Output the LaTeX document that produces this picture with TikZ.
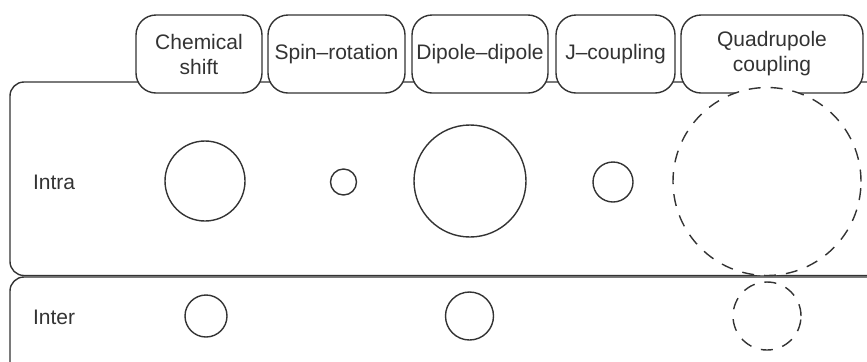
\documentclass[tikz,border=0pt]{standalone}
\usepackage{fontspec}
\setmainfont{Liberation Sans}
\begin{document}
\begin{tikzpicture}[x=0.5pt, y=-0.5pt,
    every node/.style = {font=\fontsize{10.5}{12.5}\selectfont, text=black!80},
    band/.style = {draw=black!80, line width=0.7pt, rounded corners=7pt, inner sep=0pt, outer sep=0pt},
    head/.style = {draw=black!80, fill=white, line width=0.7pt, rounded corners=10pt, align=center, inner sep=0pt, minimum height=39pt},
    dot/.style = {draw=black!80, fill=white, line width=0.7pt, circle, inner sep=0pt, outer sep=0pt},
    ddot/.style = {dot, dash pattern=on 6pt off 5pt}]
    \clip (0,0) rectangle (867,361);

    \node[band, minimum width=495pt, minimum height=96.75pt] (intra) at (505, 178.75) {};
    \node[band, minimum width=495pt, minimum height=91.5pt] (inter) at (505, 368.5) {};
    \node[anchor=west] (intralbl) at (26, 182) {Intra};
    \node[anchor=west] (interlbl) at (26, 317) {Inter};

    \node[head, minimum width=63pt] (cs) at (199, 54) {Chemical\\shift};
    \node[head, minimum width=68.5pt] (sr) at (336.5, 54) {Spin--rotation};
    \node[head, minimum width=68pt] (dd) at (480, 54) {Dipole--dipole};
    \node[head, minimum width=59.5pt] (jc) at (615.5, 54) {J--coupling};
    \node[head, minimum width=91pt] (qc) at (772, 54) {Quadrupole\\coupling};

    \node[dot, minimum size=40pt] (cs1) at (205, 181) {};
    \node[dot, minimum size=13pt] (sr1) at (343.5, 182) {};
    \node[dot, minimum size=56pt] (dd1) at (470, 181) {};
    \node[dot, minimum size=20pt] (jc1) at (613, 182) {};
    \node[ddot, minimum size=94pt] (qc1) at (767, 181.5) {};

    \node[dot, minimum size=21pt] (cs2) at (206, 316) {};
    \node[dot, minimum size=24pt] (dd2) at (469.5, 316) {};
    \node[ddot, minimum size=34pt] (qc2) at (767, 316) {};

\end{tikzpicture}
\end{document}
